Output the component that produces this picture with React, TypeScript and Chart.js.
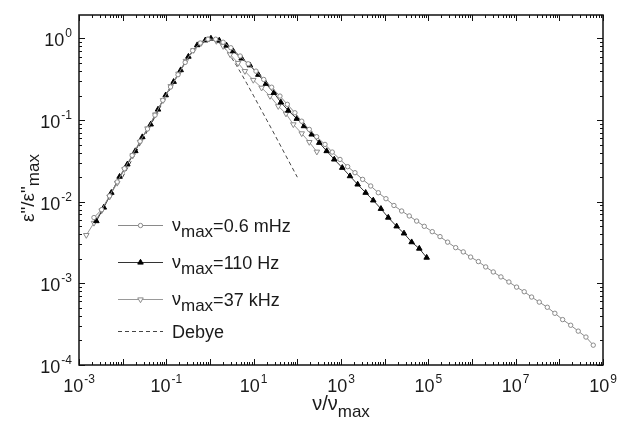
import React, { useEffect, useRef } from 'react';
import { Chart, registerables } from 'chart.js';

Chart.register(...registerables);

// ν_max = 0.6 mHz (open circles)
const circX = [0.0022, 0.0033, 0.005, 0.0075, 0.011, 0.0165, 0.025, 0.037, 0.055, 0.083, 0.125, 0.185, 0.27, 0.4, 0.6, 0.9, 1.35, 2.0, 3.0, 4.9, 7.5, 11.3, 17, 25.8, 40, 59, 88, 126, 188, 277, 430, 631, 948, 1422, 2090, 3130, 4790, 7150, 10700, 16300, 24500, 36600, 54000, 80700, 123000, 185000, 277000, 423000, 631000, 931000, 1.4e6, 2.06e6, 3.07e6, 4.6e6, 7.0e6, 1.05e7, 1.57e7, 2.32e7, 3.47e7, 5.3e7, 7.9e7, 1.19e8, 1.82e8, 2.71e8, 4.07e8, 5.98e8];
const circY = [0.0064, 0.008, 0.0118, 0.0175, 0.0255, 0.037, 0.055, 0.078, 0.115, 0.175, 0.255, 0.36, 0.51, 0.71, 0.88, 0.98, 0.98, 0.9, 0.77, 0.61, 0.49, 0.398, 0.315, 0.253, 0.197, 0.156, 0.123, 0.097, 0.077, 0.0626, 0.0504, 0.0406, 0.033, 0.0269, 0.0227, 0.0188, 0.0156, 0.0129, 0.0109, 0.009, 0.0077, 0.0067, 0.0058, 0.005, 0.0043, 0.00374, 0.0032, 0.00274, 0.00243, 0.0021, 0.00185, 0.00159, 0.00138, 0.0012, 0.00104, 0.0009, 0.00079, 0.00068, 0.00059, 0.00051, 0.00043, 0.00036, 0.000307, 0.00026, 0.00022, 0.000175];

// ν_max = 110 Hz (filled triangles)
const triX = [0.0025, 0.0037, 0.0055, 0.0085, 0.0128, 0.0195, 0.0282, 0.0438, 0.0645, 0.0967, 0.147, 0.213, 0.32, 0.51, 0.78, 1.05, 1.63, 2.4, 3.4, 5.3, 8.2, 12.8, 19.1, 29, 42, 62, 97, 142, 213, 318, 470, 701, 1070, 1607, 2406, 3670, 5480, 8220, 12100, 18800, 27700, 41500, 62100, 91600];
const triY = [0.0058, 0.0085, 0.0129, 0.0203, 0.0287, 0.0418, 0.062, 0.0886, 0.135, 0.202, 0.295, 0.41, 0.6, 0.83, 0.95, 1.0, 0.945, 0.82, 0.7, 0.57, 0.47, 0.36, 0.279, 0.216, 0.165, 0.131, 0.104, 0.0845, 0.0668, 0.0528, 0.0418, 0.033, 0.0261, 0.0206, 0.0163, 0.0129, 0.0104, 0.0082, 0.0064, 0.005, 0.0041, 0.0032, 0.00267, 0.00207];

// ν_max = 37 kHz (open down triangles)
const downX = [0.00147, 0.0022, 0.0033, 0.005, 0.0075, 0.011, 0.017, 0.025, 0.037, 0.056, 0.084, 0.126, 0.19, 0.28, 0.42, 0.63, 0.95, 1.4, 2.0, 2.9, 4.4, 6.3, 9.8, 15.2, 23.7, 36.6, 55, 81, 126, 188, 280];
const downY = [0.0039, 0.0055, 0.0078, 0.0115, 0.017, 0.025, 0.037, 0.054, 0.079, 0.117, 0.175, 0.26, 0.37, 0.53, 0.72, 0.88, 0.99, 0.93, 0.805, 0.637, 0.5, 0.398, 0.31, 0.249, 0.197, 0.148, 0.12, 0.0886, 0.0687, 0.0538, 0.041];

// Debye (dashed)
const debX = [0.01, 0.03, 0.1, 0.2, 0.3, 0.4, 0.5, 0.6, 0.7, 0.8, 1, 1.25, 1.5, 1.7, 2, 2.5, 3, 4, 5, 7, 10, 14, 20, 30, 50, 100];
const debY = [0.02, 0.06, 0.198, 0.385, 0.55, 0.69, 0.8, 0.88, 0.94, 0.976, 1, 0.976, 0.92, 0.87, 0.8, 0.69, 0.6, 0.47, 0.385, 0.28, 0.198, 0.142, 0.1, 0.067, 0.04, 0.02];

const xTickExps = [-3, -1, 1, 3, 5, 7, 9];
const yTickExps = [0, -1, -2, -3, -4];
const legendValues = ['=0.6 mHz', '=110 Hz', '=37 kHz'];
const debyeLabel = 'Debye';

const FONT = '"Liberation Sans", Arial, Helvetica, sans-serif';
const GRAY = '#8a8a8a';

const pts = (xs: number[], ys: number[]) => xs.map((x, i) => ({ x, y: ys[i] }));

function drawPow(ctx: CanvasRenderingContext2D, x: number, baseY: number, exp: number, align: 'center' | 'right') {
  ctx.font = `18px ${FONT}`;
  const bw = ctx.measureText('10').width;
  ctx.font = `12px ${FONT}`;
  const es = String(exp);
  const ew = ctx.measureText(es).width;
  const total = bw + ew + 1;
  const x0 = align === 'center' ? x - total / 2 : x - total;
  ctx.textAlign = 'left';
  ctx.textBaseline = 'alphabetic';
  ctx.font = `18px ${FONT}`;
  ctx.fillText('10', x0, baseY);
  ctx.font = `12px ${FONT}`;
  ctx.fillText(es, x0 + bw + 1, baseY - 9);
}

function drawMarker(ctx: CanvasRenderingContext2D, kind: string, x: number, y: number, r: number, stroke: string, fill: string) {
  ctx.save();
  ctx.beginPath();
  if (kind === 'circle') {
    ctx.arc(x, y, r, 0, Math.PI * 2);
  } else {
    const dir = kind === 'down' ? -1 : 1;
    for (let i = 0; i < 3; i++) {
      const a = (i * 2 * Math.PI) / 3;
      const px = x + Math.sin(a) * r;
      const py = y - dir * Math.cos(a) * r;
      if (i === 0) ctx.moveTo(px, py); else ctx.lineTo(px, py);
    }
    ctx.closePath();
  }
  ctx.fillStyle = fill;
  ctx.fill();
  ctx.strokeStyle = stroke;
  ctx.lineWidth = 1;
  ctx.stroke();
  ctx.restore();
}

const framePlugin = {
  id: 'framePlugin',
  afterDatasetsDraw(chart: any) {
    const { ctx, chartArea: a, scales } = chart;
    const xs = scales.x;
    const ys = scales.y;
    ctx.save();
    ctx.strokeStyle = '#111';
    ctx.lineWidth = 1;
    // x ticks (bottom + top, inward)
    const kx0 = Math.floor(Math.log10(xs.min));
    const kx1 = Math.ceil(Math.log10(xs.max));
    for (let k = kx0; k <= kx1; k++) {
      for (let m = 1; m <= 9; m++) {
        const v = m * Math.pow(10, k);
        if (v < xs.min * 0.999 || v > xs.max * 1.001) continue;
        const px = Math.round(xs.getPixelForValue(v)) + 0.5;
        const len = m === 1 ? 6 : 3;
        ctx.beginPath();
        ctx.moveTo(px, a.bottom);
        ctx.lineTo(px, a.bottom - len);
        ctx.moveTo(px, a.top);
        ctx.lineTo(px, a.top + len);
        ctx.stroke();
      }
    }
    const ky0 = Math.floor(Math.log10(ys.min));
    const ky1 = Math.ceil(Math.log10(ys.max));
    for (let k = ky0; k <= ky1; k++) {
      for (let m = 1; m <= 9; m++) {
        const v = m * Math.pow(10, k);
        if (v < ys.min * 0.999 || v > ys.max * 1.001) continue;
        const py = Math.round(ys.getPixelForValue(v)) + 0.5;
        const len = m === 1 ? 6 : 3;
        ctx.beginPath();
        ctx.moveTo(a.left, py);
        ctx.lineTo(a.left + len, py);
        ctx.moveTo(a.right, py);
        ctx.lineTo(a.right - len, py);
        ctx.stroke();
      }
    }
    // frame
    ctx.lineWidth = 1.5;
    ctx.strokeRect(a.left, a.top, a.right - a.left, a.bottom - a.top);

    // tick labels
    ctx.fillStyle = '#1a1a1a';
    xTickExps.forEach((e) => {
      const px = xs.getPixelForValue(Math.pow(10, e));
      drawPow(ctx, px, a.bottom + 27, e, 'center');
    });
    yTickExps.forEach((e) => {
      const py = ys.getPixelForValue(Math.pow(10, e));
      drawPow(ctx, a.left - 7, py + 8, e, 'right');
    });

    // x title: ν/ν_max
    ctx.textBaseline = 'alphabetic';
    ctx.textAlign = 'left';
    ctx.font = `20px ${FONT}`;
    const mainX = 'ν/ν';
    const mwx = ctx.measureText(mainX).width;
    ctx.font = `17px ${FONT}`;
    const swx = ctx.measureText('max').width;
    const cx = (a.left + a.right) / 2;
    const x0 = cx - (mwx + swx) / 2;
    ctx.font = `20px ${FONT}`;
    ctx.fillText(mainX, x0, 410);
    ctx.font = `17px ${FONT}`;
    ctx.fillText('max', x0 + mwx, 417);

    // y title: ε''/ε''_max rotated
    ctx.save();
    const cy = 188;
    ctx.translate(34, cy);
    ctx.rotate(-Math.PI / 2);
    ctx.font = `19px ${FONT}`;
    const mainY = 'ε"/ε"';
    const mwy = ctx.measureText(mainY).width;
    ctx.font = `17px ${FONT}`;
    const swy = ctx.measureText('max').width;
    const y0 = -(mwy + swy) / 2;
    ctx.font = `19px ${FONT}`;
    ctx.fillText(mainY, y0, 0);
    ctx.font = `17px ${FONT}`;
    ctx.fillText('max', y0 + mwy, 5);
    ctx.restore();

    // legend
    const lx0 = a.left + 39;
    const lx1 = a.left + 84;
    const lm = (lx0 + lx1) / 2;
    const tx = a.left + 93;
    const rows = [a.top + 210, a.top + 247, a.top + 284];
    const dsets = chart.data.datasets;
    const kinds = ['circle', 'up', 'down'];
    rows.forEach((ry, i) => {
      const ds = dsets[i];
      ctx.strokeStyle = ds.borderColor;
      ctx.lineWidth = 1;
      ctx.setLineDash([]);
      ctx.beginPath();
      ctx.moveTo(lx0, ry + 0.5);
      ctx.lineTo(lx1, ry + 0.5);
      ctx.stroke();
      drawMarker(ctx, kinds[i], lm, ry + 0.5, i === 0 ? 2.2 : 3.2, ds.pointBorderColor, ds.pointBackgroundColor);
      ctx.fillStyle = '#1a1a1a';
      ctx.font = `18px ${FONT}`;
      ctx.fillText('ν', tx, ry + 6);
      const nw = ctx.measureText('ν').width;
      ctx.font = `17px ${FONT}`;
      ctx.fillText('max', tx + nw, ry + 12);
      const mw = ctx.measureText('max').width;
      ctx.font = `18px ${FONT}`;
      ctx.fillText(legendValues[i], tx + nw + mw, ry + 6.5);
    });
    const dy = a.top + 316;
    const deb = dsets[3];
    ctx.strokeStyle = deb.borderColor;
    ctx.setLineDash([4, 3]);
    ctx.beginPath();
    ctx.moveTo(lx0, dy + 0.5);
    ctx.lineTo(lx1, dy + 0.5);
    ctx.stroke();
    ctx.setLineDash([]);
    ctx.fillStyle = '#1a1a1a';
    ctx.font = `18px ${FONT}`;
    ctx.fillText(debyeLabel, tx, dy + 6.5);

    ctx.restore();
  },
};

export default function App() {
  const ref = useRef<HTMLCanvasElement>(null);
  useEffect(() => {
    if (!ref.current) return;
    const chart = new Chart(ref.current, {
      type: 'scatter',
      data: {
        datasets: [
          {
            label: 'νmax=0.6 mHz',
            data: pts(circX, circY),
            showLine: true,
            borderColor: GRAY,
            borderWidth: 1,
            pointStyle: 'circle',
            pointRadius: 2.2,
            pointBorderColor: GRAY,
            pointBackgroundColor: '#ffffff',
            pointBorderWidth: 1,
            order: 1,
          },
          {
            label: 'νmax=110 Hz',
            data: pts(triX, triY),
            showLine: true,
            borderColor: '#333333',
            borderWidth: 1,
            pointStyle: 'triangle',
            pointRadius: 3.2,
            pointBorderColor: '#000000',
            pointBackgroundColor: '#000000',
            pointBorderWidth: 1,
            order: 2,
          },
          {
            label: 'νmax=37 kHz',
            data: pts(downX, downY),
            showLine: true,
            borderColor: '#999999',
            borderWidth: 1,
            pointStyle: 'triangle',
            pointRotation: 180,
            pointRadius: 3.2,
            pointBorderColor: GRAY,
            pointBackgroundColor: '#ffffff',
            pointBorderWidth: 1,
            order: 3,
          },
          {
            label: 'Debye',
            data: pts(debX, debY),
            showLine: true,
            borderColor: '#444444',
            borderWidth: 1,
            borderDash: [4, 3],
            pointRadius: 0,
            order: 4,
          },
        ],
      } as any,
      options: {
        animation: false,
        responsive: false,
        events: [],
        layout: { padding: { left: 79, right: 15, top: 15, bottom: 65 } },
        plugins: { legend: { display: false }, tooltip: { enabled: false } },
        scales: {
          x: { type: 'logarithmic', min: 1e-3, max: 1e9, display: false },
          y: { type: 'logarithmic', min: 1e-4, max: 1.94, display: false },
        },
      } as any,
      plugins: [framePlugin],
    });
    return () => chart.destroy();
  }, []);
  return (
    <div style={{ position: 'fixed', left: 0, top: 0, width: 618, height: 430, background: '#ffffff' }}>
      <canvas ref={ref} width={618} height={430} style={{ display: 'block' }} />
    </div>
  );
}
